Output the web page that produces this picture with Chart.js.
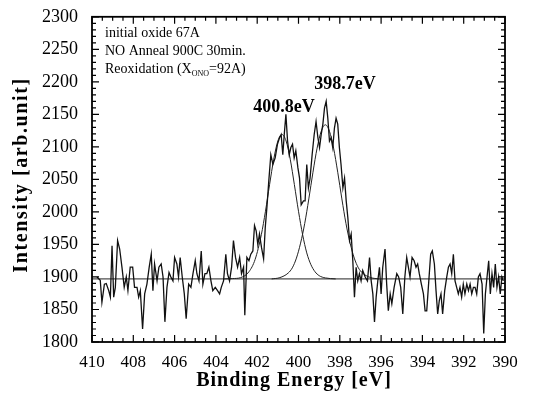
<!DOCTYPE html>
<html>
<head>
<meta charset="utf-8">
<script src="https://cdn.jsdelivr.net/npm/chart.js@4"></script>
<style>
  html, body { margin: 0; padding: 0; background: #fff; }
  #wrap { width: 548px; height: 401px; }
</style>
</head>
<body>
<div id="wrap"><canvas id="xpsChart" width="548" height="401"></canvas></div>
<script>
// N1s spectrum
const energy = [409.76, 409.60, 409.52, 409.40, 409.31, 409.19, 409.11, 409.03, 408.95, 408.87,
    408.76, 408.66, 408.55, 408.44, 408.34, 408.26, 408.15, 408.03, 407.94, 407.82,
    407.74, 407.66, 407.55, 407.45, 407.34, 407.23, 407.13, 407.05, 406.97, 406.85,
    406.76, 406.65, 406.56, 406.47, 406.37, 406.27, 406.18, 406.08, 406.00, 405.89,
    405.81, 405.73, 405.63, 405.53, 405.44, 405.32, 405.21, 405.11, 405.00, 404.92,
    404.82, 404.71, 404.63, 404.53, 404.44, 404.34, 404.24, 404.15, 404.03, 403.92,
    403.82, 403.74, 403.63, 403.52, 403.44, 403.34, 403.24, 403.15, 403.05, 402.95,
    402.85, 402.76, 402.66, 402.60, 402.50, 402.40, 402.31, 402.21, 402.13, 402.05,
    401.97, 401.89, 401.79, 401.69, 401.61, 401.53, 401.44, 401.34, 401.24, 401.13,
    401.02, 400.92, 400.84, 400.76, 400.69, 400.61, 400.53, 400.45, 400.37, 400.29,
    400.21, 400.13, 400.03, 399.95, 399.87, 399.76, 399.68, 399.60, 399.52, 399.44,
    399.34, 399.24, 399.15, 399.06, 398.98, 398.90, 398.82, 398.74, 398.66, 398.58,
    398.50, 398.42, 398.34, 398.26, 398.18, 398.10, 398.02, 397.94, 397.85, 397.77,
    397.69, 397.61, 397.53, 397.45, 397.37, 397.29, 397.21, 397.13, 397.05, 396.97,
    396.89, 396.77, 396.66, 396.56, 396.48, 396.40, 396.32, 396.24, 396.16, 396.08,
    396.00, 395.92, 395.81, 395.73, 395.65, 395.56, 395.48, 395.37, 395.24, 395.15,
    395.05, 394.95, 394.85, 394.76, 394.68, 394.60, 394.50, 394.40, 394.31, 394.23,
    394.15, 394.05, 393.95, 393.87, 393.79, 393.69, 393.60, 393.52, 393.42, 393.34,
    393.26, 393.18, 393.10, 393.02, 392.92, 392.82, 392.74, 392.66, 392.58, 392.50,
    392.42, 392.34, 392.26, 392.18, 392.10, 392.02, 391.94, 391.85, 391.77, 391.69,
    391.61, 391.53, 391.45, 391.37, 391.29, 391.21, 391.11, 391.03, 390.95, 390.87,
    390.79, 390.71, 390.63, 390.55, 390.47, 390.39, 390.31, 390.23, 390.15, 390.08];

const counts = [1900, 1895, 1861, 1889, 1890, 1879, 1869, 1948, 1869, 1884,
    1956, 1943, 1915, 1884, 1900, 1879, 1915, 1915, 1884, 1884,
    1869, 1879, 1820, 1874, 1889, 1915, 1935, 1879, 1920, 1894,
    1915, 1920, 1900, 1831, 1884, 1907, 1900, 1894, 1930, 1920,
    1900, 1930, 1900, 1874, 1836, 1889, 1884, 1905, 1925, 1905,
    1894, 1940, 1889, 1905, 1905, 1915, 1894, 1879, 1884, 1879,
    1874, 1884, 1894, 1935, 1905, 1894, 1915, 1956, 1930, 1915,
    1930, 1905, 1915, 1841, 1930, 1925, 1935, 1940, 1979, 1971,
    1950, 1966, 1945, 1928, 1976, 2007, 2047, 2088, 2073, 2083,
    2104, 2114, 2119, 2088, 2119, 2150, 2109, 2088, 2099, 2104,
    2083, 2094, 2068, 2052, 2011, 2017, 2017, 2073, 2037, 2052,
    2088, 2119, 2139, 2114, 2099, 2119, 2135, 2160, 2170, 2144,
    2109, 2114, 2099, 2129, 2144, 2135, 2099, 2073, 2037, 2052,
    2017, 1991, 1956, 1966, 1925, 1869, 1915, 1894, 1905, 1894,
    1910, 1900, 1894, 1930, 1894, 1874, 1831, 1869, 1894, 1915,
    1874, 1915, 1943, 1889, 1848, 1874, 1859, 1884, 1905, 1900,
    1884, 1843, 1900, 1930, 1915, 1900, 1930, 1925, 1915, 1920,
    1905, 1889, 1874, 1848, 1848, 1894, 1935, 1940, 1920, 1879,
    1843, 1864, 1874, 1843, 1879, 1900, 1915, 1920, 1905, 1935,
    1894, 1884, 1874, 1884, 1869, 1889, 1874, 1889, 1879, 1889,
    1874, 1884, 1884, 1874, 1900, 1905, 1889, 1813, 1874, 1900,
    1925, 1874, 1905, 1884, 1920, 1884, 1900, 1874, 1900, 1894];

// fitted components (400.8 eV and 398.7 eV), baseline included
const fit1Energy = [403.6, 403.2, 402.8, 402.4, 402.1, 401.8, 401.6, 401.4, 401.2, 401.0,
    400.8, 400.6, 400.4, 400.2, 400.0, 399.8, 399.6, 399.4, 399.2, 399.0, 398.7, 398.2];
const fit1Counts = [1897, 1897.5, 1899, 1908, 1927, 1965, 2001, 2042, 2081, 2109,
    2119, 2109, 2081, 2042, 2001, 1965, 1937, 1919, 1908, 1902, 1898.5, 1897];

const fit2Energy = [401.3, 400.9, 400.5, 400.3, 400.1, 399.9, 399.7, 399.5, 399.3, 399.1,
    398.9, 398.7, 398.5, 398.3, 398.1, 397.9, 397.7, 397.5, 397.3, 397.1, 396.9, 396.5, 396.1];
const fit2Counts = [1897, 1899, 1906, 1914, 1929, 1952, 1982, 2020, 2061, 2098,
    2124, 2134, 2124, 2098, 2061, 2020, 1982, 1952, 1929, 1914, 1906, 1899, 1897];

const baseEnergy = [410, 390];
const baseCounts = [1897, 1897];

const xTicks = [410, 408, 406, 404, 402, 400, 398, 396, 394, 392, 390];
const yTicks = [1800, 1850, 1900, 1950, 2000, 2050, 2100, 2150, 2200, 2250, 2300];

const infoLines = ['initial oxide 67A', 'NO Anneal 900C 30min.'];

const toPoints = (xs, ys) => xs.map((x, i) => ({ x: x, y: ys[i] }));

const serif = '"Liberation Serif", "Times New Roman", serif';

// Frame, inward ticks and all the free text
const decorPlugin = {
    id: 'decor',
    afterDraw(chart) {
        const { ctx, chartArea: a, scales } = chart;
        const xs = scales.x, ys = scales.y;
        ctx.save();
        ctx.strokeStyle = '#000';
        ctx.lineWidth = 1.8;
        ctx.strokeRect(a.left, a.top, a.right - a.left, a.bottom - a.top);

        ctx.lineWidth = 1.2;
        ctx.beginPath();
        for (let v = 390; v <= 410.001; v += 0.5) {
            const px = xs.getPixelForValue(v);
            const len = Math.abs(v % 2) < 0.01 ? 7 : 4;
            ctx.moveTo(px, a.bottom); ctx.lineTo(px, a.bottom - len);
            ctx.moveTo(px, a.top); ctx.lineTo(px, a.top + len);
        }
        for (let v = 1800; v <= 2300; v += 10) {
            const py = ys.getPixelForValue(v);
            const len = v % 50 === 0 ? 7 : 4;
            ctx.moveTo(a.left, py); ctx.lineTo(a.left + len, py);
            ctx.moveTo(a.right, py); ctx.lineTo(a.right - len, py);
        }
        ctx.stroke();

        ctx.fillStyle = '#000';
        // info block
        ctx.font = '14px ' + serif;
        ctx.textAlign = 'left';
        ctx.textBaseline = 'alphabetic';
        ctx.fillText(infoLines[0], 105, 37);
        ctx.fillText(infoLines[1], 105, 55);
        let tx = 105;
        const ty = 73;
        ctx.fillText('Reoxidation (X', tx, ty);
        tx += ctx.measureText('Reoxidation (X').width;
        ctx.font = '8px ' + serif;
        ctx.fillText('ONO', tx, ty + 3);
        tx += ctx.measureText('ONO').width;
        ctx.font = '14px ' + serif;
        ctx.fillText('=92A)', tx, ty);

        // peak labels
        ctx.font = 'bold 18px ' + serif;
        ctx.textAlign = 'center';
        ctx.fillText('400.8eV', 284, 112);
        ctx.fillText('398.7eV', 345, 89);

        // axis titles
        ctx.font = 'bold 20px ' + serif;
        ctx.textBaseline = 'middle';
        ctx.letterSpacing = '1px';
        ctx.fillText('Binding Energy [eV]', 294, 381);
        ctx.letterSpacing = '1.6px';
        ctx.translate(22, 175);
        ctx.rotate(-Math.PI / 2);
        ctx.fillText('Intensity [arb.unit]', 0, 0);
        ctx.restore();
    }
};

new Chart(document.getElementById('xpsChart'), {
    type: 'line',
    data: {
        datasets: [
            {
                label: 'Data',
                data: toPoints(energy, counts),
                borderColor: '#111',
                borderWidth: 1.3,
                pointRadius: 0,
                tension: 0
            },
            {
                label: 'Baseline',
                data: toPoints(baseEnergy, baseCounts),
                borderColor: '#222',
                borderWidth: 1,
                pointRadius: 0
            },
            {
                label: '400.8eV',
                data: toPoints(fit1Energy, fit1Counts),
                borderColor: '#222',
                borderWidth: 1,
                pointRadius: 0,
                cubicInterpolationMode: 'monotone'
            },
            {
                label: '398.7eV',
                data: toPoints(fit2Energy, fit2Counts),
                borderColor: '#222',
                borderWidth: 1,
                pointRadius: 0,
                cubicInterpolationMode: 'monotone'
            }
        ]
    },
    options: {
        responsive: false,
        animation: false,
        events: [],
        layout: { padding: { left: 0, top: 15, right: 43, bottom: 0 } },
        plugins: {
            legend: { display: false },
            tooltip: { enabled: false }
        },
        scales: {
            x: {
                type: 'linear',
                min: 390,
                max: 410,
                reverse: true,
                grid: { display: false },
                border: { display: false },
                afterFit(scale) { scale.height = 59; },
                afterBuildTicks(scale) { scale.ticks = xTicks.map(v => ({ value: v })); },
                ticks: {
                    color: '#000',
                    padding: 2,
                    maxRotation: 0,
                    autoSkip: false,
                    font: { family: serif, size: 17 },
                    callback: v => String(v)
                }
            },
            y: {
                min: 1800,
                max: 2300,
                grid: { display: false },
                border: { display: false },
                afterFit(scale) { scale.width = 92; },
                afterBuildTicks(scale) { scale.ticks = yTicks.map(v => ({ value: v })); },
                ticks: {
                    color: '#000',
                    padding: 6,
                    autoSkip: false,
                    font: { family: serif, size: 18 },
                    callback: v => String(v)
                }
            }
        }
    },
    plugins: [decorPlugin]
});
</script>
</body>
</html>
